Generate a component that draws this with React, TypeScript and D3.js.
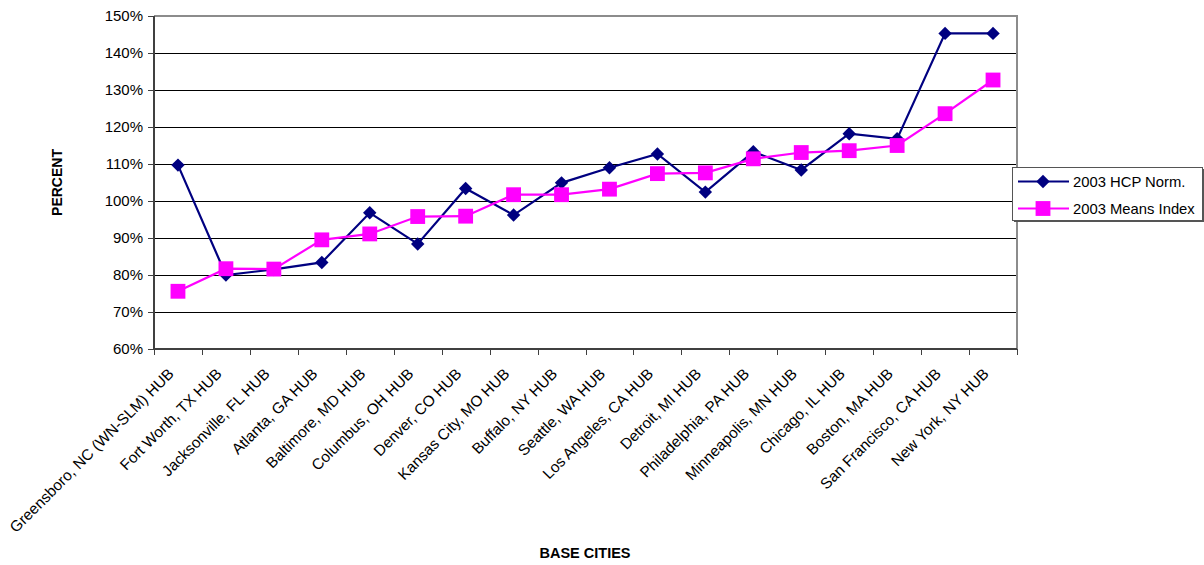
import React, { useEffect, useRef } from "react";
import * as d3 from "d3";

const cities: string[] = [
  "Greensboro, NC (WN-SLM) HUB",
  "Fort Worth, TX HUB",
  "Jacksonville, FL HUB",
  "Atlanta, GA HUB",
  "Baltimore, MD HUB",
  "Columbus, OH HUB",
  "Denver, CO HUB",
  "Kansas City, MO HUB",
  "Buffalo, NY HUB",
  "Seattle, WA HUB",
  "Los Angeles, CA HUB",
  "Detroit, MI HUB",
  "Philadelphia, PA HUB",
  "Minneapolis, MN HUB",
  "Chicago, IL HUB",
  "Boston, MA HUB",
  "San Francisco, CA HUB",
  "New York, NY HUB",
];

const hcpNorm: number[] = [
  109.7, 80.0, 81.5, 83.4, 96.8, 88.4, 103.4, 96.2, 104.9, 109.0, 112.7, 102.4,
  113.3, 108.4, 118.2, 116.8, 145.3, 145.3,
];

const meansIndex: number[] = [
  75.6, 81.7, 81.6, 89.5, 91.1, 95.8, 95.9, 101.7, 101.7, 103.2, 107.4, 107.6,
  111.4, 113.1, 113.6, 115.0, 123.6, 132.7,
];

const yTicks: number[] = [60, 70, 80, 90, 100, 110, 120, 130, 140, 150];

const seriesNames: string[] = ["2003 HCP Norm.", "2003 Means Index"];
const seriesColors: string[] = ["#000080", "#FF00FF"];

const W = 1204;
const H = 565;
const FONT = "Arial, 'Liberation Sans', sans-serif";

export default function App() {
  const ref = useRef<SVGSVGElement | null>(null);

  useEffect(() => {
    const svg = d3.select(ref.current);
    svg.selectAll("*").remove();

    const left = 154;
    const right = 1017;
    const top = 16;
    const bottom = 349;

    const x = d3.scaleBand<string>().domain(cities).range([left, right]).padding(0);
    const y = d3.scaleLinear().domain([60, 150]).range([bottom, top]);
    const cx = (c: string) => (x(c) as number) + x.bandwidth() / 2;

    // gridlines
    svg
      .append("g")
      .selectAll("line")
      .data(yTicks.filter((t) => t > 60 && t < 150))
      .join("line")
      .attr("x1", left)
      .attr("x2", right)
      .attr("y1", (d) => Math.round(y(d)) + 0.5)
      .attr("y2", (d) => Math.round(y(d)) + 0.5)
      .attr("stroke", "#000")
      .attr("stroke-width", 1);

    // plot frame: top and right in gray
    svg
      .append("path")
      .attr("d", `M${left},${top}H${right}V${bottom}`)
      .attr("fill", "none")
      .attr("stroke", "#8c8c8c")
      .attr("stroke-width", 2);

    // y axis
    const yAxis = svg.append("g");
    yAxis
      .append("line")
      .attr("x1", left)
      .attr("x2", left)
      .attr("y1", top)
      .attr("y2", bottom)
      .attr("stroke", "#404040")
      .attr("stroke-width", 2);
    yAxis
      .selectAll("line.tick")
      .data(yTicks)
      .join("line")
      .attr("class", "tick")
      .attr("x1", left - 6)
      .attr("x2", left)
      .attr("y1", (d) => Math.round(y(d)) + 0.5)
      .attr("y2", (d) => Math.round(y(d)) + 0.5)
      .attr("stroke", "#404040")
      .attr("stroke-width", 1);
    yAxis
      .selectAll("text")
      .data(yTicks)
      .join("text")
      .attr("x", left - 11)
      .attr("y", (d) => y(d))
      .attr("dy", "0.35em")
      .attr("text-anchor", "end")
      .attr("font-family", FONT)
      .attr("font-size", 15)
      .attr("fill", "#000")
      .text((d) => `${d}%`);

    // x axis
    const xAxis = svg.append("g");
    xAxis
      .append("line")
      .attr("x1", left)
      .attr("x2", right)
      .attr("y1", bottom)
      .attr("y2", bottom)
      .attr("stroke", "#404040")
      .attr("stroke-width", 2);
    const tickPos = cities.map((c) => x(c) as number).concat([right]);
    xAxis
      .selectAll("line.tick")
      .data(tickPos)
      .join("line")
      .attr("class", "tick")
      .attr("x1", (d) => Math.round(d) + 0.5)
      .attr("x2", (d) => Math.round(d) + 0.5)
      .attr("y1", bottom)
      .attr("y2", bottom + 6)
      .attr("stroke", "#404040")
      .attr("stroke-width", 1);
    xAxis
      .selectAll("text")
      .data(cities)
      .join("text")
      .attr("transform", (d) => `translate(${cx(d) - 7},${bottom + 22}) rotate(-45)`)
      .attr("text-anchor", "end")
      .attr("dy", "0.35em")
      .attr("font-family", FONT)
      .attr("font-size", 15.3)
      .attr("fill", "#000")
      .text((d) => d);

    // axis titles
    svg
      .append("text")
      .attr("transform", `translate(57,${(top + bottom) / 2}) rotate(-90)`)
      .attr("text-anchor", "middle")
      .attr("dy", "0.35em")
      .attr("font-family", FONT)
      .attr("font-size", 14)
      .attr("font-weight", "bold")
      .text("PERCENT");
    svg
      .append("text")
      .attr("x", 585)
      .attr("y", 553)
      .attr("text-anchor", "middle")
      .attr("dy", "0.35em")
      .attr("font-family", FONT)
      .attr("font-size", 14.5)
      .attr("font-weight", "bold")
      .text("BASE CITIES");

    const line = d3
      .line<number>()
      .x((_, i) => cx(cities[i]))
      .y((d) => y(d));

    const diamond = d3.symbol().type(d3.symbolDiamond2).size(115);
    const square = d3.symbol().type(d3.symbolSquare).size(220);

    // HCP series
    svg
      .append("path")
      .datum(hcpNorm)
      .attr("d", line)
      .attr("fill", "none")
      .attr("stroke", seriesColors[0])
      .attr("stroke-width", 2.2);
    svg
      .append("g")
      .selectAll("path")
      .data(hcpNorm)
      .join("path")
      .attr("transform", (d, i) => `translate(${cx(cities[i])},${y(d)})`)
      .attr("d", diamond()!)
      .attr("fill", seriesColors[0]);

    // Means series
    svg
      .append("path")
      .datum(meansIndex)
      .attr("d", line)
      .attr("fill", "none")
      .attr("stroke", seriesColors[1])
      .attr("stroke-width", 2.2);
    svg
      .append("g")
      .selectAll("path")
      .data(meansIndex)
      .join("path")
      .attr("transform", (d, i) => `translate(${cx(cities[i])},${y(d)})`)
      .attr("d", square()!)
      .attr("fill", seriesColors[1]);

    // legend
    const lg = svg.append("g");
    lg.append("rect")
      .attr("x", 1014)
      .attr("y", 169)
      .attr("width", 190)
      .attr("height", 53)
      .attr("fill", "#555");
    lg.append("rect")
      .attr("x", 1012.5)
      .attr("y", 167.5)
      .attr("width", 190)
      .attr("height", 53)
      .attr("fill", "#fff")
      .attr("stroke", "#555")
      .attr("stroke-width", 1);
    const rows = [181.5, 208.5];
    seriesNames.forEach((name, i) => {
      const ry = rows[i];
      lg.append("line")
        .attr("x1", 1018)
        .attr("x2", 1069)
        .attr("y1", ry)
        .attr("y2", ry)
        .attr("stroke", seriesColors[i])
        .attr("stroke-width", 2.2);
      lg.append("path")
        .attr("transform", `translate(1043,${ry})`)
        .attr("d", (i === 0 ? diamond : square)()!)
        .attr("fill", seriesColors[i]);
      lg.append("text")
        .attr("x", 1073)
        .attr("y", ry)
        .attr("dy", "0.35em")
        .attr("font-family", FONT)
        .attr("font-size", 14.8)
        .attr("fill", "#000")
        .text(name);
    });
  }, []);

  return (
    <svg
      ref={ref}
      width={W}
      height={H}
      style={{ position: "absolute", left: 0, top: 0, background: "#fff" }}
    />
  );
}
